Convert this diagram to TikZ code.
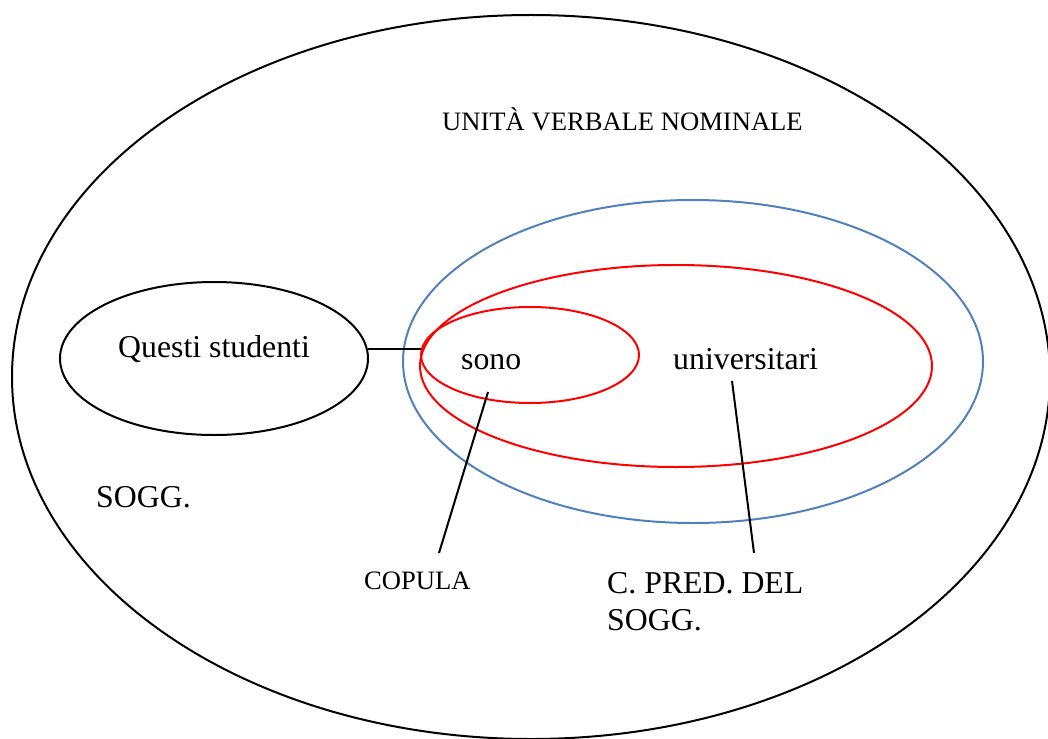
\documentclass[tikz,border=0pt]{standalone}
\usepackage{fontspec}
\setmainfont{Liberation Serif}
\usetikzlibrary{shapes.geometric}
\definecolor{ublue}{RGB}{79,129,189}
\definecolor{ured}{RGB}{255,0,0}
\tikzset{
  oval/.style={ellipse, draw, line width=2pt, inner sep=0pt, fill=none},
  bigtxt/.style={font=\fontsize{31.8}{37}\selectfont, anchor=base west, inner sep=0pt},
  smalltxt/.style={font=\fontsize{26.6}{32}\selectfont, anchor=base west, inner sep=0pt},
  conn/.style={draw, line width=2pt, black}
}
\begin{document}
\begin{tikzpicture}[x=1pt,y=-1pt]
\useasboundingbox (0,0) rectangle (1048,738);
\clip (0,0) rectangle (1048,738);
% ellipses
\node[oval, minimum width=1038pt, minimum height=724pt] (big) at (531,377) {};
\node[oval, minimum width=308pt, minimum height=153pt] (qs) at (214,358.5) {};
\node[oval, ublue, minimum width=580pt, minimum height=323pt] (blue) at (693,361.5) {};
\node[oval, ured, minimum width=512pt, minimum height=202pt] (outred) at (676,366) {};
\node[oval, ured, minimum width=218pt, minimum height=96pt] (inred) at (530,355) {};
% texts
\node[smalltxt] (uvn) at (442,131) {UNITÀ VERBALE NOMINALE};
\node[bigtxt] (qtxt) at (118,357) {Questi studenti};
\node[bigtxt] (sono) at (461,369) {sono};
\node[bigtxt] (univ) at (673,369) {universitari};
\node[bigtxt] (sogg) at (96,507) {SOGG.};
\node[smalltxt] (cop) at (364,589) {COPULA};
\node[bigtxt] (cpred) at (607,593) {C. PRED. DEL};
\node[bigtxt] (cpred2) at (607,630) {SOGG.};
% connector anchor points
\coordinate (qsR) at (368,349);
\coordinate (inL) at (421,349);
\coordinate (sonoA) at (488,392);
\coordinate (copA) at (439,553);
\coordinate (univA) at (732,381);
\coordinate (cpA) at (754,553);
\draw[conn] (qsR) -- (inL);
\draw[conn] (sonoA) -- (copA);
\draw[conn] (univA) -- (cpA);
\end{tikzpicture}
\end{document}
